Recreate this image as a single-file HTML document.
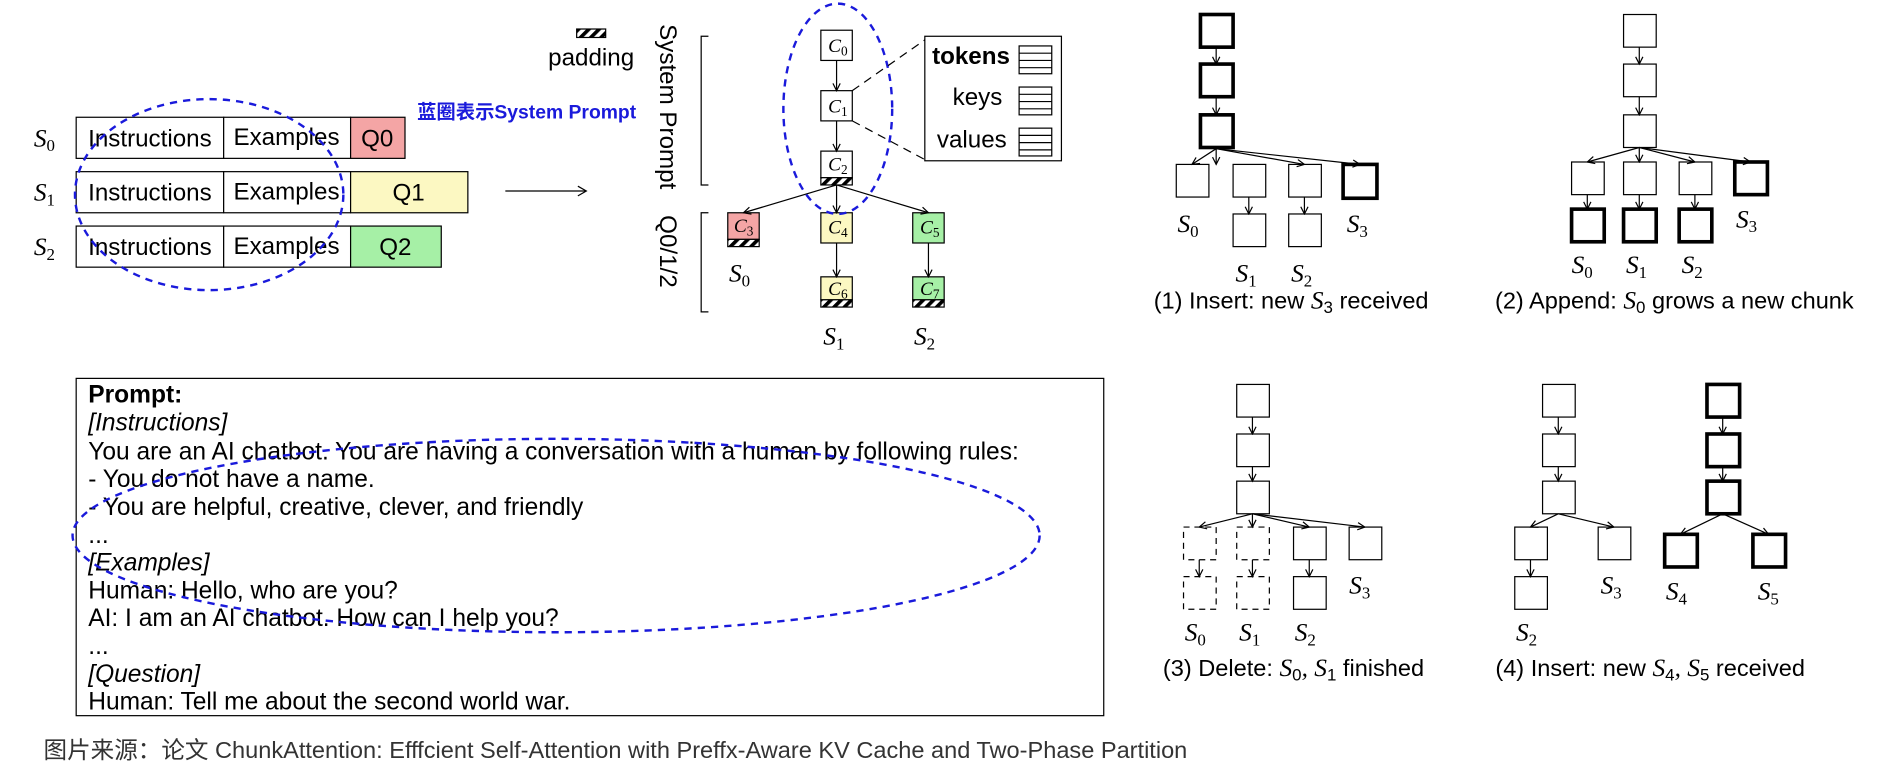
<!DOCTYPE html>
<html><head><meta charset="utf-8"><style>
html,body{margin:0;padding:0;background:#fff;}
svg{display:block}
text{font-family:"Liberation Sans","Noto Sans CJK SC",sans-serif;fill:#000}
.m{font-family:"Liberation Serif",serif;font-style:italic}
.b{fill:#fff;stroke:#000;stroke-width:1}
.k{fill:#fff;stroke:#000;stroke-width:3}
.d{fill:#fff;stroke:#000;stroke-width:1;stroke-dasharray:5,4}
.l{stroke:#000;stroke-width:1;fill:none}
.e{fill:none;stroke:#1a1adb;stroke-width:2;stroke-dasharray:6,5}
</style></head><body>
<svg width="1898" height="772" viewBox="0 0 1570 638.6" xmlns="http://www.w3.org/2000/svg">
<defs>
<marker id="a" markerWidth="8" markerHeight="8" refX="7" refY="4" orient="auto" markerUnits="userSpaceOnUse"><path d="M1,1 L7,4 L1,7" fill="none" stroke="#000" stroke-width="1"/></marker>
<pattern id="h" width="6" height="6" patternUnits="userSpaceOnUse" patternTransform="rotate(45)"><rect width="6" height="6" fill="#fff"/><rect width="3" height="6" fill="#000"/></pattern>
</defs>

<!-- left rows -->
<g font-size="20">
<text x="28" y="121" class="m" font-size="21">S<tspan font-size="14" font-style="normal" dy="4">0</tspan></text>
<text x="28" y="166" class="m" font-size="21">S<tspan font-size="14" font-style="normal" dy="4">1</tspan></text>
<text x="28" y="211" class="m" font-size="21">S<tspan font-size="14" font-style="normal" dy="4">2</tspan></text>
<rect x="63" y="97" width="122" height="34" class="b"/><rect x="185" y="97" width="105" height="34" class="b"/><rect x="290" y="97" width="45" height="34" fill="#f4a5a5" stroke="#000"/>
<rect x="63" y="142" width="122" height="34" class="b"/><rect x="185" y="142" width="105" height="34" class="b"/><rect x="290" y="142" width="97" height="34" fill="#fcf8c2" stroke="#000"/>
<rect x="63" y="187" width="122" height="34" class="b"/><rect x="185" y="187" width="105" height="34" class="b"/><rect x="290" y="187" width="75" height="34" fill="#a6f0a6" stroke="#000"/>
<text x="124" y="121" text-anchor="middle">Instructions</text><text x="237" y="120" text-anchor="middle">Examples</text><text x="312" y="121" text-anchor="middle">Q0</text>
<text x="124" y="166" text-anchor="middle">Instructions</text><text x="237" y="165" text-anchor="middle">Examples</text><text x="338" y="166" text-anchor="middle">Q1</text>
<text x="124" y="211" text-anchor="middle">Instructions</text><text x="237" y="210" text-anchor="middle">Examples</text><text x="327" y="211" text-anchor="middle">Q2</text>
</g>
<ellipse cx="173" cy="161" rx="111" ry="79" class="e"/>
<text x="345" y="98" font-size="16" font-weight="bold" style="fill:#1a1adb">蓝圈表示System Prompt</text>
<rect x="477" y="24" width="24" height="7" fill="url(#h)" stroke="#000"/>
<text x="489" y="54" font-size="20" text-anchor="middle">padding</text>
<line x1="418" y1="158" x2="484" y2="158" class="l"/><path d="M478,154 L485,158 L478,162" class="l"/>

<!-- brackets -->
<text transform="translate(546,20) rotate(90)" font-size="20">System Prompt</text>
<path d="M586,30 L580,30 L580,153 L586,153" class="l"/>
<text transform="translate(546,178) rotate(90)" font-size="20">Q0/1/2</text>
<path d="M586,176 L580,176 L580,258 L586,258" class="l"/>

<!-- tree C -->
<g font-size="16">
<rect x="679" y="25" width="26" height="25" class="b"/><text x="685" y="43" class="m">C<tspan font-size="11" font-style="normal" dy="3">0</tspan></text>
<rect x="679" y="75" width="26" height="25" class="b"/><text x="685" y="93" class="m">C<tspan font-size="11" font-style="normal" dy="3">1</tspan></text>
<rect x="679" y="125" width="26" height="22" class="b"/><text x="685" y="141" class="m">C<tspan font-size="11" font-style="normal" dy="3">2</tspan></text>
<rect x="679" y="147" width="26" height="6" fill="url(#h)" stroke="#000"/>
<rect x="602" y="176" width="26" height="22" fill="#f4a5a5" stroke="#000"/><text x="607" y="192" class="m">C<tspan font-size="11" font-style="normal" dy="3">3</tspan></text>
<rect x="602" y="198" width="26" height="6" fill="url(#h)" stroke="#000"/>
<rect x="679" y="176" width="26" height="25" fill="#fcf8c2" stroke="#000"/><text x="685" y="193" class="m">C<tspan font-size="11" font-style="normal" dy="3">4</tspan></text>
<rect x="755" y="176" width="26" height="25" fill="#a6f0a6" stroke="#000"/><text x="761" y="193" class="m">C<tspan font-size="11" font-style="normal" dy="3">5</tspan></text>
<rect x="679" y="229" width="26" height="19" fill="#fcf8c2" stroke="#000"/><text x="685" y="244" class="m">C<tspan font-size="11" font-style="normal" dy="3">6</tspan></text>
<rect x="679" y="248" width="26" height="6" fill="url(#h)" stroke="#000"/>
<rect x="755" y="229" width="26" height="19" fill="#a6f0a6" stroke="#000"/><text x="761" y="244" class="m">C<tspan font-size="11" font-style="normal" dy="3">7</tspan></text>
<rect x="755" y="248" width="26" height="6" fill="url(#h)" stroke="#000"/>
</g>
<line x1="692" y1="50" x2="692" y2="75" class="l" marker-end="url(#a)"/>
<line x1="692" y1="100" x2="692" y2="125" class="l" marker-end="url(#a)"/>
<line x1="692" y1="153" x2="692" y2="176" class="l" marker-end="url(#a)"/>
<line x1="692" y1="153" x2="615" y2="176" class="l" marker-end="url(#a)"/>
<line x1="692" y1="153" x2="768" y2="176" class="l" marker-end="url(#a)"/>
<line x1="692" y1="201" x2="692" y2="229" class="l" marker-end="url(#a)"/>
<line x1="768" y1="201" x2="768" y2="229" class="l" marker-end="url(#a)"/>
<g font-size="21">
<text x="603" y="233" class="m">S<tspan font-size="14" font-style="normal" dy="4">0</tspan></text>
<text x="681" y="285" class="m">S<tspan font-size="14" font-style="normal" dy="4">1</tspan></text>
<text x="756" y="285" class="m">S<tspan font-size="14" font-style="normal" dy="4">2</tspan></text>
</g>
<ellipse cx="693" cy="90" rx="45" ry="87" class="e"/>
<line x1="705" y1="75" x2="765" y2="33" class="l" stroke-dasharray="7,5"/>
<line x1="705" y1="100" x2="765" y2="132" class="l" stroke-dasharray="7,5"/>
<rect x="765" y="30" width="113" height="103" class="b"/>
<text x="771" y="53" font-size="20" font-weight="bold">tokens</text>
<text x="788" y="87" font-size="20">keys</text>
<text x="775" y="122" font-size="20">values</text>
<g class="l">
<rect x="843" y="38" width="27" height="23"/><line x1="843" y1="44" x2="870" y2="44"/><line x1="843" y1="50" x2="870" y2="50"/><line x1="843" y1="56" x2="870" y2="56"/>
<rect x="843" y="72" width="27" height="23"/><line x1="843" y1="78" x2="870" y2="78"/><line x1="843" y1="84" x2="870" y2="84"/><line x1="843" y1="90" x2="870" y2="90"/>
<rect x="843" y="106" width="27" height="23"/><line x1="843" y1="112" x2="870" y2="112"/><line x1="843" y1="118" x2="870" y2="118"/><line x1="843" y1="124" x2="870" y2="124"/>
</g>

<!-- Tree 1 -->
<rect x="993" y="12" width="27" height="27" class="k"/>
<rect x="993" y="53" width="27" height="27" class="k"/>
<rect x="993" y="95" width="27" height="27" class="k"/>
<rect x="973" y="136" width="27" height="27" class="b"/>
<rect x="1020" y="136" width="27" height="27" class="b"/>
<rect x="1066" y="136" width="27" height="27" class="b"/>
<rect x="1111" y="136" width="28" height="28" class="k"/>
<rect x="1020" y="177" width="27" height="27" class="b"/>
<rect x="1066" y="177" width="27" height="27" class="b"/>
<g class="l">
<line x1="1006" y1="40" x2="1006" y2="53" marker-end="url(#a)"/>
<line x1="1006" y1="81" x2="1006" y2="95" marker-end="url(#a)"/>
<line x1="1006" y1="123" x2="986" y2="136" marker-end="url(#a)"/>
<line x1="1006" y1="123" x2="1006" y2="136" marker-end="url(#a)"/>
<line x1="1006" y1="123" x2="1079" y2="136" marker-end="url(#a)"/>
<line x1="1006" y1="123" x2="1125" y2="136" marker-end="url(#a)"/>
<line x1="1033" y1="163" x2="1033" y2="177" marker-end="url(#a)"/>
<line x1="1079" y1="163" x2="1079" y2="177" marker-end="url(#a)"/>
</g>
<g font-size="21">
<text x="974" y="192" class="m">S<tspan font-size="14" font-style="normal" dy="4">0</tspan></text>
<text x="1022" y="233" class="m">S<tspan font-size="14" font-style="normal" dy="4">1</tspan></text>
<text x="1068" y="233" class="m">S<tspan font-size="14" font-style="normal" dy="4">2</tspan></text>
<text x="1114" y="192" class="m">S<tspan font-size="14" font-style="normal" dy="4">3</tspan></text>
</g>
<text x="1068" y="255" font-size="19.5" text-anchor="middle">(1) Insert: new <tspan class="m" font-size="21">S</tspan><tspan font-size="14" dy="4">3</tspan><tspan dy="-4"> received</tspan></text>

<!-- Tree 2 -->
<rect x="1343" y="12" width="27" height="27" class="b"/>
<rect x="1343" y="53" width="27" height="27" class="b"/>
<rect x="1343" y="95" width="27" height="27" class="b"/>
<rect x="1300" y="134" width="27" height="27" class="b"/>
<rect x="1343" y="134" width="27" height="27" class="b"/>
<rect x="1389" y="134" width="27" height="27" class="b"/>
<rect x="1435" y="134" width="27" height="27" class="k"/>
<rect x="1300" y="173" width="27" height="27" class="k"/>
<rect x="1343" y="173" width="27" height="27" class="k"/>
<rect x="1389" y="173" width="27" height="27" class="k"/>
<g class="l">
<line x1="1356" y1="39" x2="1356" y2="53" marker-end="url(#a)"/>
<line x1="1356" y1="80" x2="1356" y2="95" marker-end="url(#a)"/>
<line x1="1356" y1="122" x2="1313" y2="134" marker-end="url(#a)"/>
<line x1="1356" y1="122" x2="1356" y2="134" marker-end="url(#a)"/>
<line x1="1356" y1="122" x2="1402" y2="134" marker-end="url(#a)"/>
<line x1="1356" y1="122" x2="1448" y2="134" marker-end="url(#a)"/>
<line x1="1313" y1="161" x2="1313" y2="173" marker-end="url(#a)"/>
<line x1="1356" y1="161" x2="1356" y2="173" marker-end="url(#a)"/>
<line x1="1402" y1="161" x2="1402" y2="173" marker-end="url(#a)"/>
</g>
<g font-size="21">
<text x="1300" y="226" class="m">S<tspan font-size="14" font-style="normal" dy="4">0</tspan></text>
<text x="1345" y="226" class="m">S<tspan font-size="14" font-style="normal" dy="4">1</tspan></text>
<text x="1391" y="226" class="m">S<tspan font-size="14" font-style="normal" dy="4">2</tspan></text>
<text x="1436" y="188" class="m">S<tspan font-size="14" font-style="normal" dy="4">3</tspan></text>
</g>
<text x="1385" y="255" font-size="19.5" text-anchor="middle">(2) Append: <tspan class="m" font-size="21">S</tspan><tspan font-size="14" dy="4">0</tspan><tspan dy="-4"> grows a new chunk</tspan></text>

<!-- Tree 3 -->
<rect x="1023" y="318" width="27" height="27" class="b"/>
<rect x="1023" y="359" width="27" height="27" class="b"/>
<rect x="1023" y="398" width="27" height="27" class="b"/>
<rect x="979" y="436" width="27" height="27" class="d"/>
<rect x="1023" y="436" width="27" height="27" class="d"/>
<rect x="1070" y="436" width="27" height="27" class="b"/>
<rect x="1116" y="436" width="27" height="27" class="b"/>
<rect x="979" y="477" width="27" height="27" class="d"/>
<rect x="1023" y="477" width="27" height="27" class="d"/>
<rect x="1070" y="477" width="27" height="27" class="b"/>
<g class="l">
<line x1="1036" y1="345" x2="1036" y2="359" marker-end="url(#a)"/>
<line x1="1036" y1="386" x2="1036" y2="398" marker-end="url(#a)"/>
<line x1="1036" y1="425" x2="992" y2="436" marker-end="url(#a)"/>
<line x1="1036" y1="425" x2="1036" y2="436" marker-end="url(#a)"/>
<line x1="1036" y1="425" x2="1083" y2="436" marker-end="url(#a)"/>
<line x1="1036" y1="425" x2="1129" y2="436" marker-end="url(#a)"/>
<line x1="992" y1="463" x2="992" y2="477" marker-end="url(#a)"/>
<line x1="1036" y1="463" x2="1036" y2="477" marker-end="url(#a)"/>
<line x1="1083" y1="463" x2="1083" y2="477" marker-end="url(#a)"/>
</g>
<g font-size="21">
<text x="980" y="530" class="m">S<tspan font-size="14" font-style="normal" dy="4">0</tspan></text>
<text x="1025" y="530" class="m">S<tspan font-size="14" font-style="normal" dy="4">1</tspan></text>
<text x="1071" y="530" class="m">S<tspan font-size="14" font-style="normal" dy="4">2</tspan></text>
<text x="1116" y="491" class="m">S<tspan font-size="14" font-style="normal" dy="4">3</tspan></text>
</g>
<text x="1070" y="559" font-size="19.5" text-anchor="middle">(3) Delete: <tspan class="m" font-size="21">S</tspan><tspan font-size="14" dy="4">0</tspan><tspan dy="-4" class="m" font-size="21">, S</tspan><tspan font-size="14" dy="4">1</tspan><tspan dy="-4"> finished</tspan></text>

<!-- Tree 4 -->
<rect x="1276" y="318" width="27" height="27" class="b"/>
<rect x="1276" y="359" width="27" height="27" class="b"/>
<rect x="1276" y="398" width="27" height="27" class="b"/>
<rect x="1253" y="436" width="27" height="27" class="b"/>
<rect x="1322" y="436" width="27" height="27" class="b"/>
<rect x="1253" y="477" width="27" height="27" class="b"/>
<rect x="1412" y="318" width="27" height="27" class="k"/>
<rect x="1412" y="359" width="27" height="27" class="k"/>
<rect x="1412" y="398" width="27" height="27" class="k"/>
<rect x="1377" y="442" width="27" height="27" class="k"/>
<rect x="1450" y="442" width="27" height="27" class="k"/>
<g class="l">
<line x1="1289" y1="345" x2="1289" y2="359" marker-end="url(#a)"/>
<line x1="1289" y1="386" x2="1289" y2="398" marker-end="url(#a)"/>
<line x1="1289" y1="425" x2="1266" y2="436" marker-end="url(#a)"/>
<line x1="1289" y1="425" x2="1335" y2="436" marker-end="url(#a)"/>
<line x1="1266" y1="463" x2="1266" y2="477" marker-end="url(#a)"/>
<line x1="1425" y1="345" x2="1425" y2="359" marker-end="url(#a)"/>
<line x1="1425" y1="386" x2="1425" y2="398" marker-end="url(#a)"/>
<line x1="1425" y1="425" x2="1390" y2="442" marker-end="url(#a)"/>
<line x1="1425" y1="425" x2="1463" y2="442" marker-end="url(#a)"/>
</g>
<g font-size="21">
<text x="1254" y="530" class="m">S<tspan font-size="14" font-style="normal" dy="4">2</tspan></text>
<text x="1324" y="491" class="m">S<tspan font-size="14" font-style="normal" dy="4">3</tspan></text>
<text x="1378" y="496" class="m">S<tspan font-size="14" font-style="normal" dy="4">4</tspan></text>
<text x="1454" y="496" class="m">S<tspan font-size="14" font-style="normal" dy="4">5</tspan></text>
</g>
<text x="1365" y="559" font-size="19.5" text-anchor="middle">(4) Insert: new <tspan class="m" font-size="21">S</tspan><tspan font-size="14" dy="4">4</tspan><tspan dy="-4" class="m" font-size="21">, S</tspan><tspan font-size="14" dy="4">5</tspan><tspan dy="-4"> received</tspan></text>

<!-- Prompt box -->
<rect x="63" y="313" width="850" height="279" class="b"/>
<g font-size="20.3">
<text x="73" y="333" font-weight="bold">Prompt:</text>
<text x="73" y="356" font-style="italic">[Instructions]</text>
<text x="73" y="380">You are an AI chatbot.  You are having a conversation with a human by following rules:</text>
<text x="73" y="403">- You do not have a name.</text>
<text x="73" y="426">- You are helpful, creative, clever, and friendly</text>
<text x="73" y="449">...</text>
<text x="73" y="472" font-style="italic">[Examples]</text>
<text x="73" y="495">Human:  Hello, who are you?</text>
<text x="73" y="518">AI: I am an AI chatbot.  How can I help you?</text>
<text x="73" y="541">...</text>
<text x="73" y="564" font-style="italic">[Question]</text>
<text x="73" y="587">Human:  Tell me about the second world war.</text>
</g>
<ellipse cx="460" cy="443" rx="400" ry="80" class="e"/>

<text x="36" y="627" font-size="19.5" style="fill:#333">图片来源：论文 ChunkAttention: Efffcient Self-Attention with Preffx-Aware KV Cache and Two-Phase Partition</text>
</svg>
</body></html>
